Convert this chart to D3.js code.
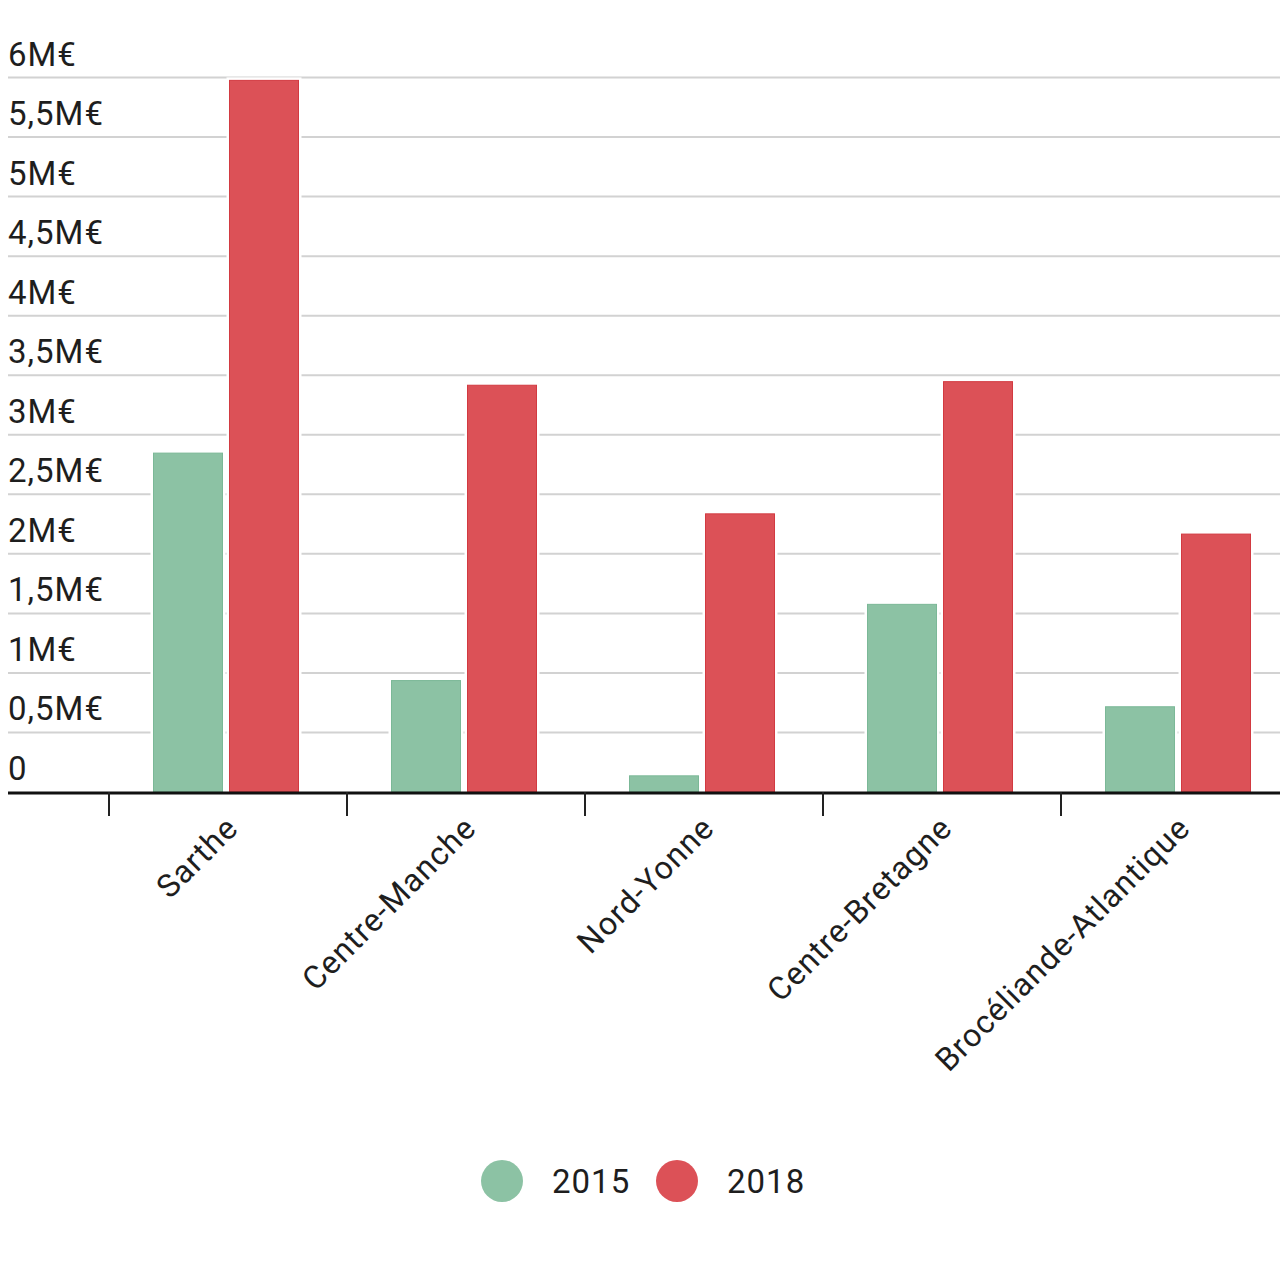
<!DOCTYPE html>
<html>
<head>
<meta charset="utf-8">
<script src="https://cdn.jsdelivr.net/npm/d3@7"></script>
<style>
  body { margin: 0; background: #fff; }
  text { font-family: Roboto, "Noto Sans", sans-serif; fill: #1e1e1e; }
</style>
</head>
<body>
<div id="chart"></div>
<script>
const regions = ["Sarthe", "Centre-Manche", "Nord-Yonne", "Centre-Bretagne", "Brocéliande-Atlantique"];
const years = ["2015", "2018"];
const values2015 = [2.85, 0.94, 0.14, 1.58, 0.72];
const values2018 = [5.98, 3.42, 2.34, 3.45, 2.17];
const yTicks = [0, 0.5, 1, 1.5, 2, 2.5, 3, 3.5, 4, 4.5, 5, 5.5, 6];
const yearColors = ["#8cc2a4", "#dc5157"];
const yearStrokes = ["#7bb897", "#d23a41"];

const width = 1280, height = 1280;
const chartLeft = 8, chartRight = 1280;
const baseY = 792, topY = 77.5;

const svg = d3.select("#chart").append("svg")
  .attr("width", width)
  .attr("height", height);

const data = regions.map((r, i) => ({ region: r, values: [values2015[i], values2018[i]] }));

const y = d3.scaleLinear().domain([0, 6]).range([baseY, topY]);

// outer bands: one per region, ticks at band start
const x0 = d3.scaleBand()
  .domain(regions)
  .range([109, 109 + 238 * regions.length])
  .padding(0);

const x1 = d3.scaleBand()
  .domain(years)
  .range([44, 190])
  .paddingInner(0.079);

const fmt = v => v === 0 ? "0" : String(v).replace(".", ",") + "M€";

// gridlines
svg.append("g").selectAll("line")
  .data(yTicks.filter(d => d > 0))
  .join("line")
  .attr("x1", chartLeft)
  .attr("x2", chartRight)
  .attr("y1", d => y(d))
  .attr("y2", d => y(d))
  .attr("stroke", "#d2d2d2")
  .attr("stroke-width", 2);

// y labels
svg.append("g").selectAll("text")
  .data(yTicks)
  .join("text")
  .attr("x", chartLeft)
  .attr("y", d => y(d) - 12)
  .attr("font-size", 33)
  .attr("letter-spacing", 1)
  .text(fmt);

// bars
const groups = svg.append("g").selectAll("g")
  .data(data)
  .join("g")
  .attr("transform", d => `translate(${x0(d.region)},0)`);

groups.selectAll(".halo")
  .data(d => d.values.map((v, i) => ({ year: years[i], v, i })))
  .join("rect")
  .attr("class", "halo")
  .attr("x", d => x1(d.year) - 2.5)
  .attr("y", d => y(d.v) - 2.5)
  .attr("width", x1.bandwidth() + 5)
  .attr("height", d => baseY - y(d.v) + 2.5)
  .attr("fill", "#fff");

groups.selectAll(".bar")
  .data(d => d.values.map((v, i) => ({ year: years[i], v, i })))
  .join("rect")
  .attr("class", "bar")
  .attr("x", d => x1(d.year) + 0.5)
  .attr("y", d => y(d.v) + 0.5)
  .attr("width", x1.bandwidth() - 1)
  .attr("height", d => baseY - y(d.v) - 0.5)
  .attr("fill", d => yearColors[d.i])
  .attr("stroke", d => yearStrokes[d.i])
  .attr("stroke-width", 1);

// x axis line + ticks
svg.append("line")
  .attr("x1", chartLeft).attr("x2", chartRight)
  .attr("y1", baseY + 1).attr("y2", baseY + 1)
  .attr("stroke", "#111").attr("stroke-width", 3);

svg.append("g").selectAll("line")
  .data(regions)
  .join("line")
  .attr("x1", d => x0(d)).attr("x2", d => x0(d))
  .attr("y1", baseY).attr("y2", baseY + 24)
  .attr("stroke", "#222").attr("stroke-width", 2);

// x labels
svg.append("g").selectAll("text")
  .data(regions)
  .join("text")
  .attr("transform", d => `translate(${x0(d) + 117 + 6},${baseY + 30}) rotate(-45)`)
  .attr("text-anchor", "end")
  .attr("dy", "0.35em")
  .attr("font-size", 32)
  .attr("letter-spacing", 1)
  .text(d => d);

// legend
const legend = svg.append("g");
const legendX = [502, 677];
years.forEach((yr, i) => {
  legend.append("circle")
    .attr("cx", legendX[i]).attr("cy", 1181).attr("r", 21)
    .attr("fill", yearColors[i]);
  legend.append("text")
    .attr("x", legendX[i] + 50).attr("y", 1181)
    .attr("dy", "0.35em")
    .attr("font-size", 33)
    .attr("letter-spacing", 1)
    .text(yr);
});
</script>
</body>
</html>
